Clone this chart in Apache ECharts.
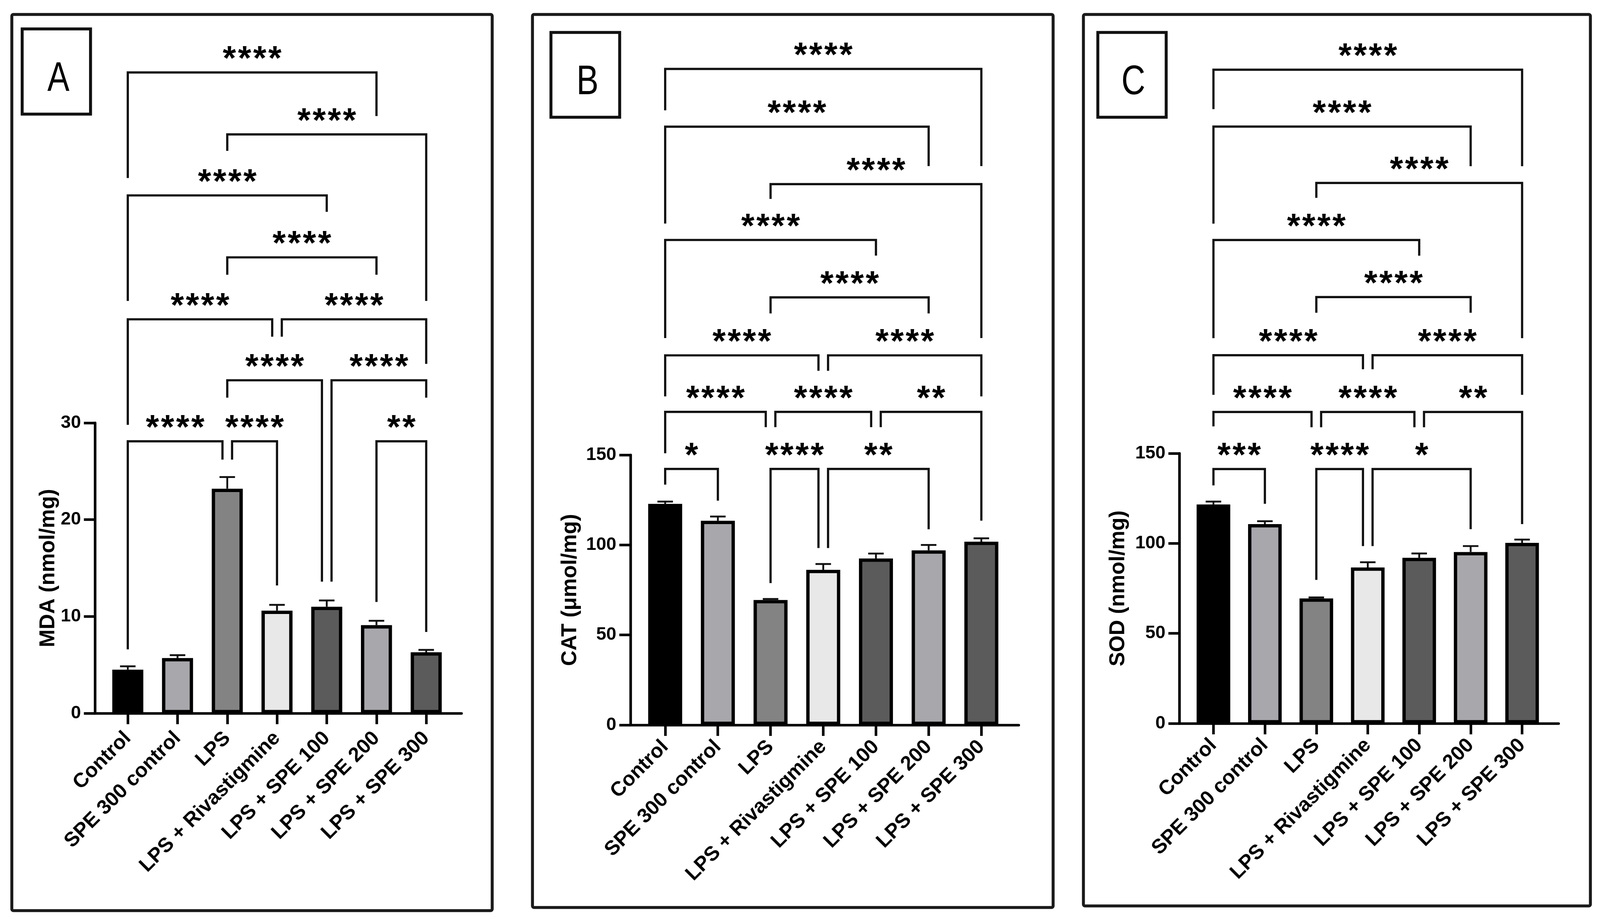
<!DOCTYPE html>
<html>
<head>
<meta charset="utf-8">
<title>MDA / CAT / SOD</title>
<script src="https://cdn.jsdelivr.net/npm/echarts@6.0.0/dist/echarts.min.js"></script>
<style>
  html, body { margin:0; padding:0; background:#fff; overflow:hidden; }
  #chart { width:100vw; height:100vh; }
</style>
</head>
<body>
<div id="chart"></div>
<script>
// ===== DATA =====
const categories = ['Control','SPE 300 control','LPS','LPS + Rivastigmine','LPS + SPE 100','LPS + SPE 200','LPS + SPE 300'];

// panel A - MDA
const mdaTicks = [0, 10, 20, 30];
const mdaMean  = [4.5, 5.7, 23.2, 10.6, 11.0, 9.1, 6.3];
const mdaErr   = [0.35, 0.3, 1.2, 0.6, 0.65, 0.45, 0.25];
// [from, to, bracket level, left leg end, right leg end, stars]
const mdaSig = [
  [0, 5, 66.2, 55.3, 61.7, '****'],
  [2, 6, 59.8, 58.1, 42.6, '****'],
  [0, 4, 53.5, 42.6, 51.8, '****'],
  [2, 5, 47.1, 45.3, 45.3, '****'],
  [0, 3, 40.7, 29.8, 38.9, '****'],
  [3, 6, 40.7, 38.9, 36.1, '****'],
  [2, 4, 34.4, 32.6, 13.6, '****'],
  [4, 6, 34.4, 13.6, 32.6, '****'],
  [0, 2, 28.1, 6.6, 26.2, '****'],
  [2, 3, 28.1, 26.2, 13.2, '****'],
  [5, 6, 28.1, 11.5, 8.4, '**']
];

// panel B - CAT
const catTicks = [0, 50, 100, 150];
const catMean  = [122.8, 113.4, 69.4, 86.2, 92.5, 97.0, 101.8];
const catErr   = [1.3, 2.4, 0.6, 3.2, 2.7, 3.0, 1.9];
const catSig = [
  [0, 6, 364.4, 341.4, 310.4, '****'],
  [0, 5, 332.3, 278.5, 310.4, '****'],
  [2, 6, 300.4, 292.2, 214.9, '****'],
  [0, 4, 269.4, 214.9, 260.7, '****'],
  [2, 5, 237.5, 228.6, 228.6, '****'],
  [0, 3, 205.3, 182.5, 196.7, '****'],
  [3, 6, 205.3, 196.7, 182.5, '****'],
  [0, 2, 173.9, 150.9, 165.4, '****'],
  [2, 4, 173.9, 165.4, 165.4, '****'],
  [4, 6, 173.9, 165.4, 113.5, '**'],
  [0, 1, 142.2, 133.5, 124.6, '*'],
  [2, 3, 142.2, 78.8, 98.3, '****'],
  [3, 5, 142.2, 98.3, 108.7, '**']
];

// panel C - SOD
const sodTicks = [0, 50, 100, 150];
const sodMean  = [121.6, 110.7, 69.4, 86.6, 92.0, 95.2, 100.3];
const sodErr   = [1.6, 1.6, 0.6, 2.9, 2.4, 3.3, 1.8];
const sodSig = [
  [0, 6, 363.1, 341.2, 309.5, '****'],
  [0, 5, 331.5, 277.6, 309.5, '****'],
  [2, 6, 300.2, 291.9, 214.0, '****'],
  [0, 4, 268.5, 214.0, 259.8, '****'],
  [2, 5, 236.8, 228.1, 228.1, '****'],
  [0, 3, 204.5, 182.5, 196.7, '****'],
  [3, 6, 204.5, 196.7, 182.5, '****'],
  [0, 2, 173.0, 165.0, 164.5, '****'],
  [2, 4, 173.0, 164.5, 164.5, '****'],
  [4, 6, 173.0, 164.5, 110.7, '**'],
  [0, 1, 141.3, 132.2, 122.0, '***'],
  [2, 3, 141.3, 79.7, 98.5, '****'],
  [3, 5, 141.3, 98.5, 107.9, '*']
];

// ===== STYLE / LAYOUT (designed on a 4330 x 2354 page, scaled to the window) =====
const el = document.getElementById('chart');
const W = el.clientWidth || window.innerWidth, H = el.clientHeight || window.innerHeight;
const sx = W / 4330, sy = H / 2354, sf = Math.min(sx, sy);
console.log('[chart] window', W, H, 'scale', sx.toFixed(3), sy.toFixed(3));

const barColors = ['#000000','#a7a7ac','#838383','#e8e8e8','#5b5b5b','#a7a7ac','#5b5b5b'];
const FONT = '"Liberation Sans", Arial, sans-serif';
const INK = '#111';

const panels = [
  { letter:'A', yName:'MDA (nmol/mg)', ticks:mdaTicks, mean:mdaMean, err:mdaErr, sig:mdaSig,
    grid:[257, 1082, 992, 743], barWidth:84, nameGap:97, labelMargin:56,
    frame:[32, 37, 1300, 2293], box:[60, 74, 185, 218], letterAt:[158, 203] },
  { letter:'B', yName:'CAT (μmol/mg)', ticks:catTicks, mean:catMean, err:catErr, sig:catSig,
    grid:[1706, 1164, 1051, 691], barWidth:92, nameGap:134, labelMargin:48,
    frame:[1441, 37, 1409, 2285], box:[1491, 83, 186, 217], letterAt:[1590, 212] },
  { letter:'C', yName:'SOD (nmol/mg)', ticks:sodTicks, mean:sodMean, err:sodErr, sig:sodSig,
    grid:[3192, 1160, 1026, 691], barWidth:91, nameGap:136, labelMargin:48,
    frame:[2932, 37, 1372, 2281], box:[2971, 83, 185, 217], letterAt:[3067, 212] }
];

const catIdx = categories.map((_, i) => i);

// ===== renderers =====
function errorRenderer(params, api){
  const i = api.value(0), m = api.value(1), e = api.value(2);
  const p0 = api.coord([i, m]);
  const p1 = api.coord([i, m + e]);
  const cap = 21 * sx;
  const st = { stroke:INK, lineWidth:5 * sf };
  return {
    type:'group',
    children:[
      { type:'line', shape:{ x1:p0[0], y1:p0[1], x2:p1[0], y2:p1[1] }, style:st },
      { type:'line', shape:{ x1:p1[0]-cap, y1:p1[1], x2:p1[0]+cap, y2:p1[1] }, style:st }
    ]
  };
}

function bracketRenderer(sig){
  return function(params, api){
    const b = sig[params.dataIndex];
    // ends that share a category with a neighbour in the same row are pulled apart
    const shareL = sig.some(o => o !== b && o[2] === b[2] && o[1] === b[0]);
    const shareR = sig.some(o => o !== b && o[2] === b[2] && o[0] === b[1]);
    let x1 = api.coord([api.value(0), api.value(2)])[0];
    let x2 = api.coord([api.value(1), api.value(2)])[0];
    if (shareL) x1 += 13 * sx;
    if (shareR) x2 -= 13 * sx;
    const y  = api.coord([0, api.value(2)])[1];
    const yl = api.coord([0, api.value(3)])[1];
    const yr = api.coord([0, api.value(4)])[1];
    const children = [
      { type:'polyline', shape:{ points:[[x1, yl], [x1, y], [x2, y], [x2, yr]] },
        style:{ stroke:INK, lineWidth:6 * sf, fill:null, lineJoin:'miter' } }
    ];
    const stars = b[5];
    const pitch = 41 * sx;
    const cx = (x1 + x2) / 2;
    for (let k = 0; k < stars.length; k++){
      children.push({
        type:'text',
        style:{
          text:'*', x: cx + (k - (stars.length - 1) / 2) * pitch, y: y - 31 * sy,
          align:'center', verticalAlign:'middle', textAlign:'center', textVerticalAlign:'middle',
          font:'bold ' + Math.round(92 * sf) + 'px ' + FONT, fill:'#000'
        }
      });
    }
    return { type:'group', children };
  };
}

// ===== build option =====
const grid = [], xAxis = [], yAxis = [], series = [], graphic = [];

panels.forEach((p, gi) => {
  grid.push({ left:p.grid[0]*sx, top:p.grid[1]*sy, width:p.grid[2]*sx, height:p.grid[3]*sy,
    outerBoundsMode:'none', containLabel:false });

  xAxis.push({
    type:'value', gridIndex:gi, min:-0.66, max:6.71,
    axisLine:{ show:true, onZero:false, lineStyle:{ color:'#000', width:7*sf } },
    axisTick:{ show:true, customValues:catIdx, length:28*sy, lineStyle:{ color:'#000', width:7*sf } },
    axisLabel:{ show:true, customValues:catIdx, rotate:45, margin:p.labelMargin*sy,
      formatter: v => categories[Math.round(v)] || '',
      fontFamily:FONT, fontWeight:'bold', fontSize:55*sf, color:'#000' },
    splitLine:{ show:false }
  });

  const t = p.ticks;
  yAxis.push({
    type:'value', gridIndex:gi, min:t[0], max:t[t.length-1], interval:t[1]-t[0],
    name:p.yName, nameLocation:'middle', nameGap:p.nameGap*sx,
    nameTextStyle:{ fontFamily:FONT, fontWeight:'bold', fontSize:58*sf, color:'#000' },
    axisLine:{ show:true, onZero:false, lineStyle:{ color:'#000', width:7*sf } },
    axisTick:{ show:true, length:30*sx, lineStyle:{ color:'#000', width:7*sf } },
    axisLabel:{ margin:38*sx, fontFamily:FONT, fontWeight:'bold', fontSize:49*sf, color:'#000' },
    splitLine:{ show:false }
  });

  series.push({
    type:'bar', xAxisIndex:gi, yAxisIndex:gi, barWidth:p.barWidth*sx, z:2,
    data: p.mean.map((v, i) => ({ value:[i, v], itemStyle:{ color:barColors[i] } })),
    itemStyle:{ borderColor:'#000', borderWidth:9*sf },
    emphasis:{ disabled:true }, animation:false
  });

  series.push({
    type:'custom', xAxisIndex:gi, yAxisIndex:gi, z:3, clip:false,
    renderItem:errorRenderer,
    data: p.mean.map((v, i) => [i, v, p.err[i]]),
    animation:false, silent:true
  });

  series.push({
    type:'custom', xAxisIndex:gi, yAxisIndex:gi, z:4, clip:false,
    renderItem:bracketRenderer(p.sig),
    data: p.sig.map(b => b.slice(0, 5)),
    animation:false, silent:true
  });

  // outer frame, letter box, panel letter
  graphic.push({ type:'rect', shape:{ x:p.frame[0]*sx, y:p.frame[1]*sy, width:p.frame[2]*sx, height:p.frame[3]*sy, r:4 },
    style:{ fill:null, stroke:'#1a1a1a', lineWidth:8*sf }, silent:true });
  graphic.push({ type:'rect', shape:{ x:p.box[0]*sx, y:p.box[1]*sy, width:p.box[2]*sx, height:p.box[3]*sy },
    style:{ fill:'#fff', stroke:'#111', lineWidth:8*sf }, silent:true });
  graphic.push({ type:'text', x:p.letterAt[0]*sx, y:p.letterAt[1]*sy, scaleX:0.8,
    style:{ text:p.letter, align:'center', verticalAlign:'middle', textAlign:'center', textVerticalAlign:'middle',
      font:Math.round(112*sf) + 'px "Liberation Sans", Arial, sans-serif', fill:'#000' }, silent:true });
});

const chart = echarts.init(el, null, { renderer:'canvas' });
chart.setOption({
  backgroundColor:'#fff',
  animation:false,
  grid, xAxis, yAxis, series, graphic
});
window.addEventListener('resize', () => chart.resize());
</script>
</body>
</html>
